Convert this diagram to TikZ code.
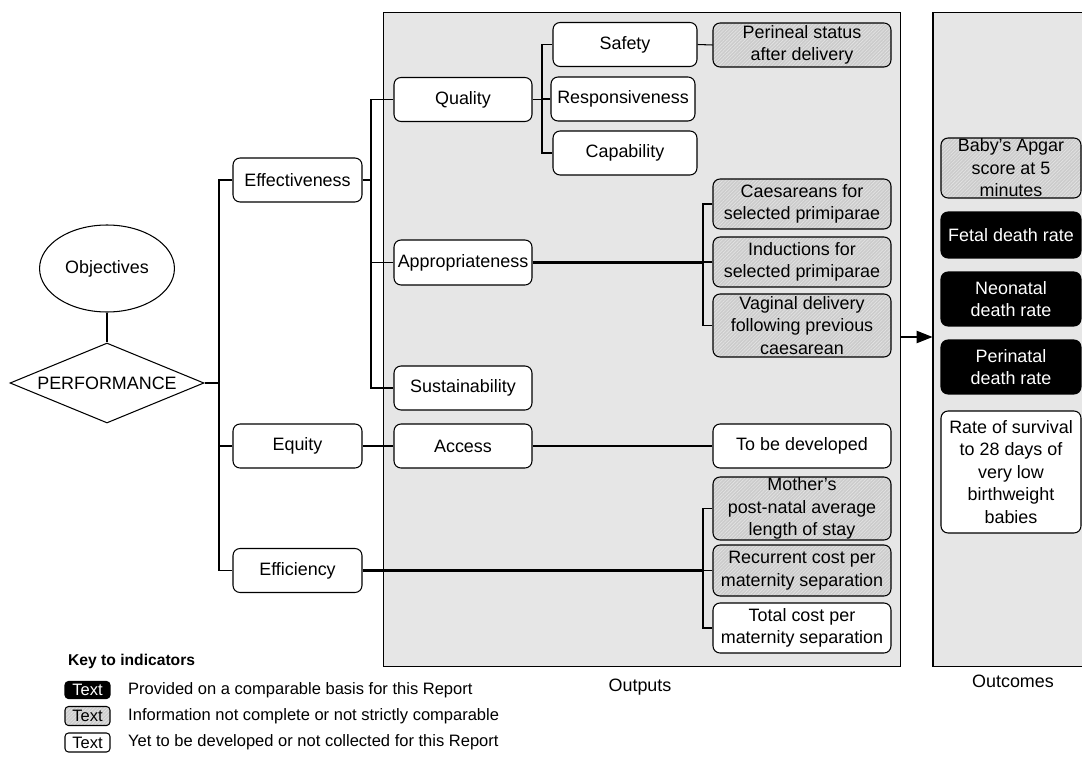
\documentclass[tikz,border=0pt]{standalone}
\usepackage{fontspec}
\setmainfont{Liberation Sans}
\usetikzlibrary{shapes.geometric,arrows.meta,patterns.meta}

\definecolor{panelgray}{RGB}{230,230,230}
\definecolor{hatchbg}{RGB}{204,204,204}
\definecolor{hatchline}{RGB}{228,228,228}

\tikzset{
    base/.style={draw, rounded corners=4pt, align=center, inner sep=0pt, line width=0.6pt},
    plain/.style={base, fill=white},
    hatched/.style={base, preaction={fill=hatchbg},
        pattern={Lines[angle=45,distance=1.4pt,line width=0.35pt]}, pattern color=hatchline},
    solid/.style={base, fill=black, text=white},
    lev1/.style={minimum width=2.58cm, minimum height=0.88cm},
    lev2/.style={minimum width=2.76cm, minimum height=0.88cm},
    lev3/.style={minimum width=2.88cm, minimum height=0.88cm},
    ind/.style={minimum width=3.56cm},
    outc/.style={minimum width=2.8cm},
    panel/.style={draw, fill=panelgray, line width=0.6pt, inner sep=0pt},
    link/.style={line width=0.6pt},
    biglink/.style={line width=1.3pt},
    keybox/.style={rounded corners=2pt, minimum width=0.9cm, inner sep=0pt, font=\fontsize{9.4}{11}\selectfont},
}

\begin{document}
\begin{tikzpicture}[x=0.02cm, y=-0.02cm, font=\fontsize{10.2}{12.8}\selectfont]
    \useasboundingbox (0,0) rectangle (1082,757);

    % panels
    \node[panel, minimum width=10.36cm, minimum height=13.1cm] (outputs) at (642,339.5) {};
    \node[panel, minimum width=3.24cm, minimum height=13.1cm] (outcomes) at (1014,339.5) {};
    \node at (640,687) {Outputs};
    \node at (1013,681) {Outcomes};

    % objectives and performance
    \node[ellipse, draw, line width=0.6pt, minimum width=2.6cm, minimum height=1.74cm] (obj) at (107,268.5) {Objectives};
    \node[diamond, draw, line width=0.6pt, inner sep=0pt, aspect=2.4, minimum width=3.88cm, minimum height=1.6cm] (perf) at (107,383) {PERFORMANCE};

    % first level
    \node[plain, lev1] (eff) at (297.5,180) {Effectiveness};
    \node[plain, lev1] (equ) at (297.5,446) {Equity};
    \node[plain, lev1] (effi) at (297.5,570.5) {Efficiency};

    % second level
    \node[plain, lev2] (qual) at (463,99.5) {Quality};
    \node[plain, lev2, minimum height=0.9cm] (appr) at (463,262.5) {Appropriateness};
    \node[plain, lev2] (sust) at (463,388) {Sustainability};
    \node[plain, lev2] (acc) at (463,446) {Access};

    % third level
    \node[plain, lev3] (safe) at (625,44.5) {Safety};
    \node[plain, lev3] (resp) at (623,99) {Responsiveness};
    \node[plain, lev3] (capa) at (625,153) {Capability};

    % indicators
    \node[hatched, ind, minimum height=0.88cm] (peri) at (802,45) {Perineal status\\after delivery};
    \node[hatched, ind, minimum height=1.0cm] (caes) at (802,204) {Caesareans for\\selected primiparae};
    \node[hatched, ind, minimum height=1.0cm] (indu) at (802,262) {Inductions for\\selected primiparae};
    \node[hatched, ind, minimum height=1.26cm] (vagi) at (802,325.5) {Vaginal delivery\\following previous\\caesarean};
    \node[plain, ind, minimum height=0.88cm] (tbd) at (802,446) {To be developed};
    \node[hatched, ind, minimum height=1.26cm] (moth) at (802,508.5) {Mother's\\post-natal average\\length of stay};
    \node[hatched, ind, minimum height=1.02cm] (recu) at (802,570.5) {Recurrent cost per\\maternity separation};
    \node[plain, ind, minimum height=1.0cm] (tota) at (802,628) {Total cost per\\maternity separation};

    % outcomes
    \node[hatched, outc, minimum height=1.2cm] (apga) at (1011,168) {Baby's Apgar\\score at 5\\minutes};
    \node[solid, outc, minimum height=0.92cm] (feta) at (1011,235) {Fetal death rate};
    \node[solid, outc, minimum height=1.08cm] (neon) at (1011,299) {Neonatal\\death rate};
    \node[solid, outc, minimum height=1.08cm] (pnat) at (1011,367) {Perinatal\\death rate};
    \node[plain, outc, minimum height=2.44cm] (surv) at (1011,472) {Rate of survival\\to 28 days of\\very low\\birthweight\\babies};

    % connectors
    \coordinate (j1) at (219,383);
    \coordinate (j2) at (371,0);
    \coordinate (j3) at (542,0);
    \coordinate (j4) at (703,0);
    \coordinate (arrowy) at (0,337);

    \draw[link] (obj) -- (perf);
    \draw[link] (perf.east) -- (j1);
    \draw[link] (eff.west) -- (eff.west -| j1) -- (effi.west -| j1) -- (effi.west);
    \draw[link] (equ.west) -- (equ.west -| j1);

    \draw[link] (eff.east) -- (eff.east -| j2);
    \draw[link] (qual.west) -- (qual.west -| j2) -- (sust.west -| j2) -- (sust.west);
    \draw[link] (appr.west) -- (appr.west -| j2);
    \draw[link] (equ.east) -- (acc.west);

    \draw[link] (qual.east) -- (qual.east -| j3);
    \draw[link] (safe.west) -- (safe.west -| j3) -- (capa.west -| j3) -- (capa.west);
    \draw[link] (resp.west) -- (resp.west -| j3);
    \draw[link] (safe.east) -- (peri.west);
    \draw[link] (acc.east) -- (tbd.west);

    \draw[biglink] (appr.east) -- (appr.east -| j4);
    \draw[link] (caes.west) -- (caes.west -| j4) -- (vagi.west -| j4) -- (vagi.west);
    \draw[link] (indu.west) -- (indu.west -| j4);

    \draw[biglink] (effi.east) -- (effi.east -| j4);
    \draw[link] (moth.west) -- (moth.west -| j4) -- (tota.west -| j4) -- (tota.west);
    \draw[link] (recu.west) -- (recu.west -| j4);

    \draw[link, -{Triangle[length=9pt,width=7pt]}] (outputs.east |- arrowy) -- (outcomes.west |- arrowy);

    % key
    \node[anchor=west, font=\fontsize{8.9}{11}\selectfont\bfseries] (keyt) at (62,661) {Key to indicators};
    \node[solid, keybox, minimum height=0.34cm] (k1) at (87.5,690) {Text};
    \node[hatched, keybox, minimum height=0.38cm] (k2) at (87.5,716) {Text};
    \node[plain, keybox, minimum height=0.38cm] (k3) at (87.5,742.5) {Text};
    \foreach \k/\t in {k1/Provided on a comparable basis for this Report,
                       k2/Information not complete or not strictly comparable,
                       k3/Yet to be developed or not collected for this Report}{
        \node[anchor=west, font=\fontsize{9.4}{11}\selectfont] at ([xshift=0.23cm]\k.east) {\t};
    }
\end{tikzpicture}
\end{document}
